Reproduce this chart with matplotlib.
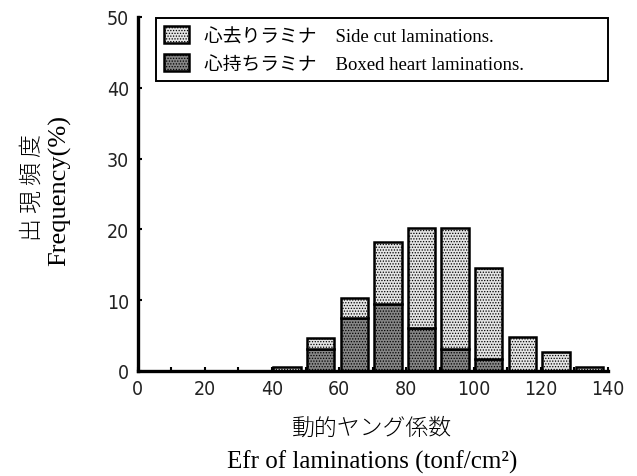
import matplotlib
matplotlib.use("Agg")
import matplotlib.pyplot as plt
from matplotlib.ticker import MultipleLocator

# Efr classes (lower edge, tonf/cm2) and frequency (%) per class
bin_lower = [40, 50, 60, 70, 80, 90, 100, 110, 120, 130]
boxed_heart = [0.0, 3.1, 7.5, 9.4, 6.0, 3.1, 1.7, 0.0, 0.0, 0.0]
side_cut = [0.5, 1.5, 2.8, 8.8, 14.2, 17.1, 12.8, 4.8, 2.6, 0.6]

label_side = "心去りラミナ    Side cut laminations."
label_boxed = "心持ちラミナ    Boxed heart laminations."

serif_jp = ["Liberation Serif", "Noto Sans CJK JP"]
tick_font = ["Liberation Sans Narrow", "DejaVu Sans Condensed", "DejaVu Sans"]

plt.rcParams["hatch.linewidth"] = 0.6

fig = plt.figure(figsize=(6.37, 4.77), dpi=100)
ax = fig.add_axes([0.2159, 0.2205, 0.7386, 0.7418])

x_left = [b + 0.4 for b in bin_lower]
bars_boxed = ax.bar(x_left, boxed_heart, width=8.2, align="edge",
                    facecolor="#858585", edgecolor="black", hatch="......",
                    linewidth=1.8, label=label_boxed)
bars_side = ax.bar(x_left, side_cut, bottom=boxed_heart, width=8.2, align="edge",
                   facecolor="#e4e4e4", edgecolor="black", hatch="......",
                   linewidth=1.8, label=label_side)

ax.set_xlim(0, 140)
ax.set_ylim(0, 50)
ax.xaxis.set_major_locator(MultipleLocator(20))
ax.xaxis.set_minor_locator(MultipleLocator(10))
ax.yaxis.set_major_locator(MultipleLocator(10))

for side in ["top", "right"]:
    ax.spines[side].set_visible(False)
for side in ["left", "bottom"]:
    ax.spines[side].set_linewidth(2.4)

ax.tick_params(which="both", direction="in", length=3, width=1.5, pad=6)
for lbl in ax.get_xticklabels() + ax.get_yticklabels():
    lbl.set_family(tick_font)
    lbl.set_fontsize(14)
    lbl.set_fontstretch("condensed")
    lbl.set_fontweight("normal")
    lbl.set_color("#222222")

leg = ax.legend([bars_side, bars_boxed], [label_side, label_boxed],
                loc="upper left", bbox_to_anchor=(0.039, 0.997, 0.961, 0.0),
                mode="expand", borderaxespad=0, fancybox=False,
                prop={"family": serif_jp, "size": 13.5},
                handlelength=1.3, handleheight=1.0, handletextpad=0.8,
                borderpad=0.45, labelspacing=0.45)
leg.get_frame().set_edgecolor("black")
leg.get_frame().set_linewidth(1.4)
leg.get_frame().set_alpha(1)

# axis titles (Japanese + English, stacked)
fig.text(372 / 637, 1 - 428 / 477, "動的ヤング係数", ha="center", va="center",
         family=["Noto Sans CJK JP"], fontsize=16.5, fontweight="light")
fig.text(372 / 637, 1 - 462 / 477, "Efr of laminations (tonf/cm²)",
         ha="center", va="center", family=serif_jp, fontsize=18)
fig.text(32 / 637, 1 - 188 / 477, "出 現 頻 度", ha="center", va="center",
         rotation=90, family=["Noto Sans CJK JP"], fontsize=16.5,
         fontweight="light")
fig.text(60 / 637, 1 - 190 / 477, "Frequency(%)", ha="center", va="center",
         rotation=90, family=serif_jp, fontsize=19)

fig.savefig("out.png", dpi=100)
